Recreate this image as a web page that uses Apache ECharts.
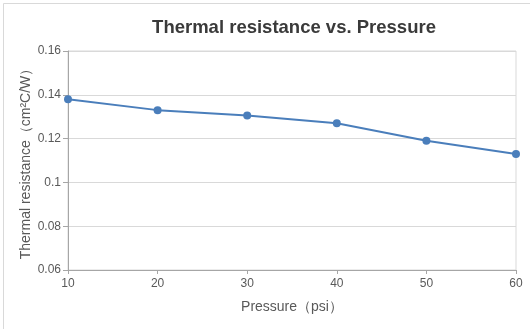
<!DOCTYPE html>
<html>
<head>
<meta charset="utf-8">
<script src="https://cdn.jsdelivr.net/npm/echarts@6/dist/echarts.min.js"></script>
<style>
html,body{margin:0;padding:0;background:#fff;}
#c{width:530px;height:329px;}
</style>
</head>
<body>
<div id="c"></div>
<script>
const pressure = [10, 20, 30, 40, 50, 60];
const resistance = [0.138, 0.133, 0.1305, 0.127, 0.119, 0.113];
const yTicks = [0.06, 0.08, 0.1, 0.12, 0.14, 0.16];
const xTicks = [10, 20, 30, 40, 50, 60];

const chart = echarts.init(document.getElementById('c'), null, {renderer: 'canvas'});
const textColor = '#595959';
const font = 'Arial, "Liberation Sans", sans-serif';
chart.setOption({
  animation: false,
  backgroundColor: '#fff',
  title: {
    text: 'Thermal resistance vs. Pressure',
    left: 289, top: 13, textAlign: 'center',
    textStyle: {fontFamily: font, fontSize: 18.5, fontWeight: 'bold', color: '#3a3a3a'}
  },
  graphic: [{
    type: 'rect', left: 1, top: 1, silent: true,
    shape: {width: 527, height: 326},
    style: {fill: 'none', stroke: '#d9d9d9', lineWidth: 1}
  }],
  grid: {left: 68, right: 14, top: 51, bottom: 59, show: true, borderColor: '#d9d9d9', borderWidth: 1},
  xAxis: {
    type: 'value',
    min: xTicks[0], max: xTicks[xTicks.length - 1], interval: 10,
    name: 'Pressure（psi）', nameLocation: 'middle', nameGap: 30, nameMoveOverlap: false,
    nameTextStyle: {fontFamily: font, fontSize: 14, color: textColor},
    axisLine: {lineStyle: {color: '#a6a6a6'}},
    axisTick: {show: true, length: 4, lineStyle: {color: '#a6a6a6'}},
    axisLabel: {fontFamily: font, fontSize: 12, color: textColor, margin: 8},
    splitLine: {show: false}
  },
  yAxis: {
    type: 'value',
    min: yTicks[0], max: yTicks[yTicks.length - 1], interval: 0.02,
    name: 'Thermal resistance（cm²C/W）', nameLocation: 'middle', nameGap: 35, nameMoveOverlap: false,
    nameTextStyle: {fontFamily: font, fontSize: 14, color: textColor},
    axisLine: {show: true, lineStyle: {color: '#a6a6a6'}},
    axisTick: {show: true, length: 5, lineStyle: {color: '#a6a6a6'}},
    axisLabel: {fontFamily: font, fontSize: 12, color: textColor, margin: 7,
      formatter: v => String(parseFloat(v.toFixed(2)))},
    splitLine: {lineStyle: {color: '#d9d9d9'}}
  },
  series: [{
    type: 'line',
    data: pressure.map((p, i) => [p, resistance[i]]),
    symbol: 'circle', symbolSize: 8,
    lineStyle: {color: '#4a7ebb', width: 2},
    itemStyle: {color: '#4a7ebb'}
  }]
});
</script>
</body>
</html>
